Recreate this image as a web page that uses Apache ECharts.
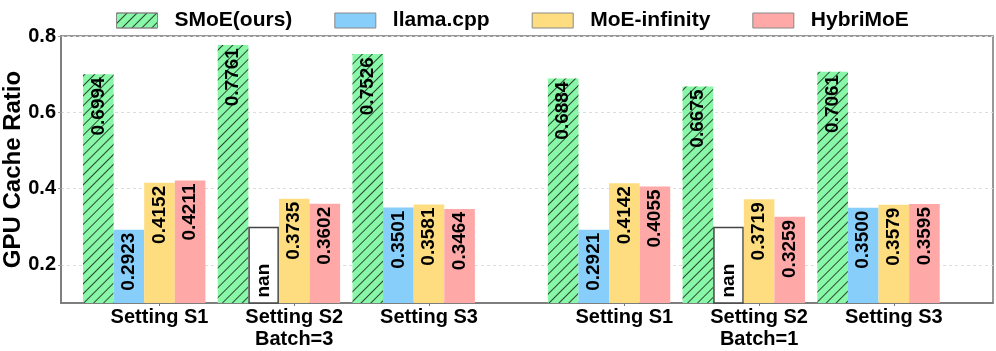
<!DOCTYPE html>
<html>
<head>
<meta charset="utf-8">
<script src="https://cdn.jsdelivr.net/npm/echarts@6/dist/echarts.min.js"></script>
<style>
  html, body { margin: 0; padding: 0; background: #fff; }
  .cache { width: 996px; height: 351px; }
</style>
</head>
<body>
<div class="cache"></div>
<script>
// group positions on the x axis (second batch block is shifted right by a gap)
const groupPos = [0, 1, 2, 3.45, 4.45, 5.45];
const groupNames = ['Setting S1', 'Setting S2\nBatch=3', 'Setting S3', 'Setting S1', 'Setting S2\nBatch=1', 'Setting S3'];

const smoe = [0.6994, 0.7761, 0.7526, 0.6884, 0.6675, 0.7061];
const llama = [0.2923, null, 0.3501, 0.2921, null, 0.3500];   // null = nan
const moeInfinity = [0.4152, 0.3735, 0.3581, 0.4142, 0.3719, 0.3579];
const hybriMoe = [0.4211, 0.3602, 0.3464, 0.4055, 0.3259, 0.3595];

const nanHeight = 0.3;
const yTicks = [0.2, 0.4, 0.6, 0.8];

~function () {
  let myChart = echarts.init(document.querySelector('.cache'));
  const font = 'Liberation Sans';

  const label = {
    show: true,
    position: 'insideTop',
    rotate: 90,
    align: 'right',
    verticalAlign: 'middle',
    distance: 3,
    color: '#000',
    fontFamily: font,
    fontWeight: 'bold',
    fontSize: 19,
    formatter: p => p.value[1].toFixed(4)
  };

  function toData(values) {
    return values.map((v, i) => {
      if (v === null) {
        return {
          value: [groupPos[i], nanHeight],
          itemStyle: { color: '#fff', borderColor: '#444', borderWidth: 1.5 },
          label: { formatter: 'nan', distance: 37 }
        };
      }
      return [groupPos[i], v];
    });
  }

  function bar(name, values, color, extra) {
    return Object.assign({
      name: name,
      type: 'bar',
      barWidth: 30.6,
      barGap: '0%',
      data: toData(values),
      itemStyle: { color: color },
      label: label
    }, extra || {});
  }

  let option = {
    animation: false,
    grid: {
      left: 61, right: 3, top: 36, bottom: 48,
      containLabel: false,
      outerBoundsMode: 'none',
      show: true, borderColor: '#777', borderWidth: 1.5, backgroundColor: 'transparent'
    },
    legend: {
      data: ['SMoE(ours)', 'llama.cpp', 'MoE-infinity', 'HybriMoE'],
      icon: 'rect',
      top: 10,
      left: 116,
      padding: 0,
      itemWidth: 41,
      itemHeight: 15,
      itemGap: 42,
      itemStyle: { borderColor: '#888', borderWidth: 1 },
      textStyle: {
        fontFamily: font, fontWeight: 'bold', fontSize: 21, color: '#000',
        padding: [0, 0, 0, 12]
      }
    },
    xAxis: {
      type: 'value',
      min: -0.731,
      max: 6.186,
      splitLine: { show: false },
      axisLine: { onZero: false, lineStyle: { color: '#777', width: 1.5 } },
      axisTick: { show: true, customValues: groupPos, length: 3, lineStyle: { color: '#777' } },
      axisLabel: {
        customValues: groupPos,
        margin: 3,
        color: '#000',
        fontFamily: font,
        fontWeight: 'bold',
        fontSize: 20,
        lineHeight: 22,
        formatter: v => {
          const i = groupPos.findIndex(p => Math.abs(p - v) < 1e-6);
          return i >= 0 ? groupNames[i] : '';
        }
      }
    },
    yAxis: {
      type: 'value',
      min: 0.1,
      max: 0.8,
      name: 'GPU Cache Ratio',
      nameLocation: 'middle',
      nameGap: 36,
      nameMoveOverlap: false,
      nameTextStyle: { fontFamily: font, fontWeight: 'bold', fontSize: 24, color: '#000' },
      axisLine: { show: true, onZero: false, lineStyle: { color: '#777', width: 1.5 } },
      axisTick: { show: true, customValues: yTicks, length: 3, lineStyle: { color: '#999' } },
      axisLabel: {
        customValues: yTicks,
        margin: 5,
        color: '#000',
        fontFamily: font,
        fontWeight: 'bold',
        fontSize: 20,
        formatter: v => v.toFixed(1)
      },
      splitLine: { show: true, lineStyle: { color: '#ddd', type: [3, 3], width: 1 } }
    },
    series: [
      bar('SMoE(ours)', smoe, '#88f7a8', {
        itemStyle: {
          color: '#88f7a8',
          decal: {
            symbol: 'rect',
            symbolSize: 1,
            dashArrayX: [1, 0],
            dashArrayY: [1, 6],
            rotation: -Math.PI / 4,
            color: 'rgba(0, 0, 0, 0.7)'
          }
        }
      }),
      bar('llama.cpp', llama, '#87cefa'),
      bar('MoE-infinity', moeInfinity, '#fedd80'),
      bar('HybriMoE', hybriMoe, '#ffa8a8'),
      // empty fifth slot, so each group is centred on its tick like the original
      { type: 'bar', barWidth: 30.6, barGap: '0%', data: [], silent: true }
    ]
  };
  myChart.setOption(option);
}();
</script>
</body>
</html>
